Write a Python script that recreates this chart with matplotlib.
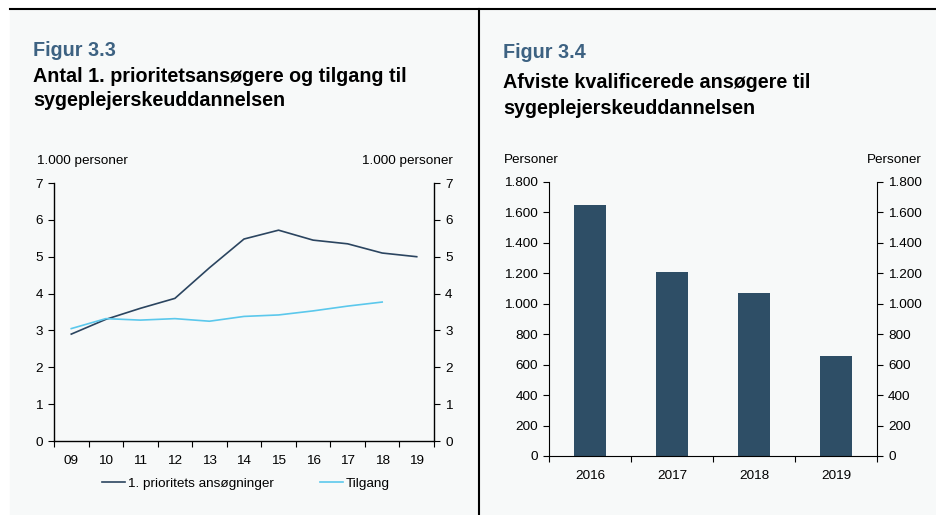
import matplotlib.pyplot as plt
from matplotlib.patches import Rectangle
from matplotlib.lines import Line2D
from matplotlib.ticker import FuncFormatter

plt.rcParams['font.family'] = ['Liberation Sans', 'DejaVu Sans']

# Data
years = ['09', '10', '11', '12', '13', '14', '15', '16', '17', '18', '19']
prioritet = [2.9, 3.3, 3.6, 3.87, 4.7, 5.48, 5.72, 5.45, 5.35, 5.1, 5.0]
tilgang = [3.05, 3.32, 3.28, 3.32, 3.25, 3.38, 3.42, 3.53, 3.66, 3.77]

bar_years = ['2016', '2017', '2018', '2019']
afviste = [1652, 1212, 1068, 656]

W, H = 936, 515
dark = '#2B4560'
light = '#5BC8EC'
barcol = '#2E4E66'
bg = '#F7F9F9'
fs = 9.7
tfs = 14.2

def px(x0, y0, x1, y1):
    # pixel box -> figure fraction
    return [x0 / W, 1 - y1 / H, (x1 - x0) / W, (y1 - y0) / H]

def thousands(v, pos):
    return f'{int(v):,}'.replace(',', '.')

fig = plt.figure(figsize=(W / 100, H / 100), dpi=100)
fig.patch.set_facecolor('white')
fig.patches.append(Rectangle((10 / W, 0), 1 - 10 / W, 1 - 10 / H,
                             transform=fig.transFigure, color=bg, zorder=-5))
fig.lines.append(Line2D([10 / W, 1], [1 - 9 / H, 1 - 9 / H], transform=fig.transFigure,
                        color='black', lw=1.5, zorder=-4))
fig.lines.append(Line2D([479 / W, 479 / W], [0, 1 - 9 / H], transform=fig.transFigure,
                        color='black', lw=1.5, zorder=-4))

# Titles
fig.text(33 / W, 1 - 50 / H, 'Figur 3.3', color='#3D6282', fontsize=tfs,
         fontweight='bold', va='center')
fig.text(33 / W, 1 - 76 / H, 'Antal 1. prioritetsansøgere og tilgang til', fontsize=tfs,
         fontweight='bold', va='center')
fig.text(33 / W, 1 - 100 / H, 'sygeplejerskeuddannelsen', fontsize=tfs,
         fontweight='bold', va='center')
fig.text(503 / W, 1 - 53 / H, 'Figur 3.4', color='#3D6282', fontsize=tfs,
         fontweight='bold', va='center')
fig.text(503 / W, 1 - 82 / H, 'Afviste kvalificerede ansøgere til', fontsize=tfs,
         fontweight='bold', va='center')
fig.text(503 / W, 1 - 109 / H, 'sygeplejerskeuddannelsen', fontsize=tfs,
         fontweight='bold', va='center')

# Figur 3.3 - line chart
ax = fig.add_axes(px(54, 183, 434, 441))
ax.set_facecolor('none')
xs = list(range(len(years)))
ax.plot(xs, prioritet, color=dark, lw=1.2, label='1. prioritets ansøgninger')
ax.plot(xs[:len(tilgang)], tilgang, color=light, lw=1.2, label='Tilgang')
ax.set_xlim(-0.5, len(years) - 0.5)
ax.set_ylim(0, 7)
ax.set_yticks(range(8))
ax.set_xticks([i - 0.5 for i in range(len(years) + 1)])
ax.set_xticklabels([])
ax.set_xticks(xs, minor=True)
ax.set_xticklabels(years, minor=True)
ax.tick_params(axis='x', which='minor', length=0, pad=10, labelsize=fs)
ax.tick_params(axis='x', which='major', length=4, direction='out')
ax.tick_params(axis='y', left=True, right=True, labelleft=True, labelright=True,
               length=4, labelsize=fs, pad=4)
ax.spines['top'].set_visible(False)
for s in ['left', 'right', 'bottom']:
    ax.spines[s].set_linewidth(1.0)
fig.text(37 / W, 1 - 161 / H, '1.000 personer', fontsize=fs, va='center')
fig.text(453 / W, 1 - 161 / H, '1.000 personer', fontsize=fs, va='center', ha='right')
ax.legend(loc='center', bbox_to_anchor=(0.505, -0.165), ncol=2, frameon=False,
          fontsize=fs, handlelength=1.7, handletextpad=0.2, columnspacing=3.4)

# Figur 3.4 - bar chart
bx = fig.add_axes(px(549, 182, 877, 456))
bx.set_facecolor('none')
bpos = list(range(len(bar_years)))
bx.bar(bpos, afviste, width=0.4, color=barcol)
bx.set_xlim(-0.5, len(bar_years) - 0.5)
bx.set_ylim(0, 1800)
bx.set_yticks(range(0, 1801, 200))
bx.yaxis.set_major_formatter(FuncFormatter(thousands))
bx.set_xticks([i - 0.5 for i in range(len(bar_years) + 1)])
bx.set_xticklabels([])
bx.set_xticks(bpos, minor=True)
bx.set_xticklabels(bar_years, minor=True)
bx.tick_params(axis='x', which='minor', length=0, pad=10, labelsize=fs)
bx.tick_params(axis='x', which='major', length=4, direction='out')
bx.tick_params(axis='y', left=True, right=True, labelleft=True, labelright=True,
               length=4, labelsize=fs, pad=4)
bx.spines['top'].set_visible(False)
fig.text(504 / W, 1 - 160 / H, 'Personer', fontsize=fs, va='center')
fig.text(922 / W, 1 - 160 / H, 'Personer', fontsize=fs, va='center', ha='right')

fig.savefig('out.png', dpi=100)
